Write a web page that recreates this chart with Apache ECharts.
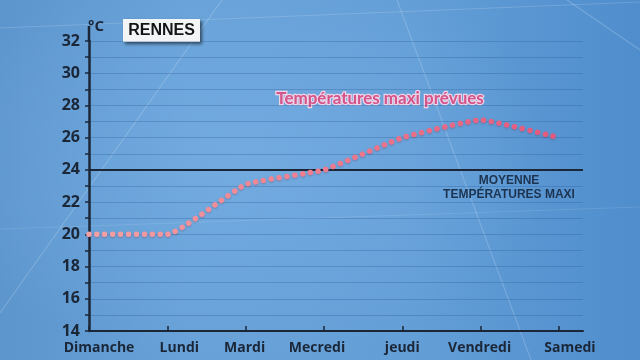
<!DOCTYPE html>
<html><head><meta charset="utf-8">
<script src="https://cdn.jsdelivr.net/npm/echarts@6/dist/echarts.min.js"></script>
<style>
html,body{margin:0;padding:0;background:#5b94cc;}
#c{width:640px;height:360px;
background:
 radial-gradient(ellipse 70% 80% at 38% 45%, rgba(125,180,232,0.55) 0%, rgba(125,180,232,0) 70%),
 linear-gradient(90deg, #5d96cd 0%, #67a1d7 30%, #639ed6 65%, #4f8dcd 100%);}
</style></head><body><div id="c"></div>
<script>
// ---- data ----
const days = ['Dimanche', 'Lundi', 'Mardi', 'Mecredi', 'jeudi', 'Vendredi', 'Samedi'];
const tmax = [20, 20, 23.1, 24, 26, 27.1, 26];
const moyenne = 24;
const yMin = 14, yMax = 32, yStep = 2;
const cityName = 'RENNES';
const seriesName = 'Températures maxi prévues';
const meanLabel = ['MOYENNE', 'TEMPÉRATURES MAXI'];
const unit = '°C';

// ---- style (label nudges, px) ----
const labelShift = [10, 12, -1, -7, 0, -1, 11];
const ink = '#1b2637';
const rich = {};
labelShift.forEach((s, i) => {
  rich['d' + i] = {
    fontFamily: 'Open Sans', fontWeight: 'bold', fontSize: 14, color: ink,
    padding: s >= 0 ? [0, 0, 0, 2 * s] : [0, -2 * s, 0, 0]
  };
});

const chart = echarts.init(document.getElementById('c'), null, {renderer: 'canvas'});
const streak = (x1, y1, x2, y2, o) => ({
  type: 'line', silent: true, z: -10,
  shape: {x1, y1, x2, y2},
  style: {stroke: 'rgba(235,245,255,' + o + ')', lineWidth: 1.2}
});

chart.setOption({
  animation: false,
  backgroundColor: 'transparent',
  grid: {left: 89, right: 57, top: 41, bottom: 29, outerBoundsMode: 'none'},
  xAxis: {
    type: 'value', min: 0, max: 6.307,
    axisLine: {show: true, onZero: false, lineStyle: {color: ink, width: 2}},
    axisTick: {show: true, inside: true, length: 5, lineStyle: {color: ink, width: 1.5},
               customValues: days.map((d, i) => i)},
    axisLabel: {
      show: true, margin: 10,
      customValues: days.map((d, i) => i),
      formatter: v => '{d' + v + '|' + days[v] + '}',
      rich: rich
    },
    splitLine: {show: false}
  },
  yAxis: {
    type: 'value', min: yMin, max: yMax, interval: yStep,
    axisLine: {show: true, lineStyle: {color: ink, width: 2.5}},
    axisTick: {show: true, length: 4, lineStyle: {color: ink, width: 1.5}},
    minorTick: {show: true, splitNumber: 2, length: 4, lineStyle: {color: ink, width: 1.5}},
    axisLabel: {color: ink, fontFamily: 'Open Sans', fontWeight: 'bold', fontSize: 16, margin: 9},
    splitLine: {show: true, lineStyle: {color: 'rgba(40,85,145,0.3)', width: 1}},
    minorSplitLine: {show: true, lineStyle: {color: 'rgba(40,85,145,0.3)', width: 1}}
  },
  series: [{
    type: 'line',
    name: seriesName,
    data: tmax.map((v, i) => [i, v]),
    showSymbol: false,
    smooth: 0.12,
    lineStyle: {
      width: 5.5, cap: 'round', type: [0.01, 7.9],
      color: new echarts.graphic.LinearGradient(0, 0, 1, 0, [
        {offset: 0, color: '#f4a2a4'},
        {offset: 0.45, color: '#ef8090'},
        {offset: 1, color: '#e3587c'}
      ]),
      shadowColor: 'rgba(110,30,60,0.3)', shadowBlur: 2, shadowOffsetY: 1
    },
    markLine: {
      silent: true, symbol: 'none',
      label: {show: false},
      lineStyle: {color: ink, width: 2, type: 'solid'},
      data: [{yAxis: moyenne}]
    },
    z: 5
  }],
  graphic: [
    streak(0, 313, 222, 0, 0.2),
    streak(397, 0, 531, 360, 0.2),
    streak(0, 28, 640, 2, 0.18),
    streak(567, 0, 640, 50, 0.22),
    streak(0, 229, 640, 207, 0.12),
    {type: 'line', shape: {x1: 89, y1: 26, x2: 89, y2: 41}, style: {stroke: ink, lineWidth: 2.5}},
    {type: 'text', x: 88, y: 19, style: {text: unit, font: 'bold 15px "Open Sans"', fill: ink}},
    {type: 'rect', shape: {x: 123, y: 19, width: 77, height: 23},
     style: {fill: '#f2f4f6', shadowColor: 'rgba(0,0,0,0.55)', shadowBlur: 3, shadowOffsetX: 2, shadowOffsetY: 2}},
    {type: 'text', x: 161.5, y: 30.5,
     style: {text: cityName, font: 'bold 16px "Liberation Sans"', fill: '#151515', align: 'center', verticalAlign: 'middle'}},
    {type: 'text', x: 380, y: 99,
     style: {text: seriesName, font: 'bold 17px "Lato"', fill: '#d4548a', align: 'center', verticalAlign: 'middle',
             stroke: 'rgba(250,215,232,0.9)', lineWidth: 2.5,
             shadowColor: 'rgba(60,30,60,0.35)', shadowBlur: 2, shadowOffsetY: 1}},
    {type: 'text', x: 509, y: 181,
     style: {text: meanLabel[0], font: 'bold 12px "Liberation Sans"', fill: '#1d3450', align: 'center', verticalAlign: 'middle'}},
    {type: 'text', x: 509, y: 195,
     style: {text: meanLabel[1], font: 'bold 12px "Liberation Sans"', fill: '#1d3450', align: 'center', verticalAlign: 'middle'}}
  ]
});
</script>
</body></html>
